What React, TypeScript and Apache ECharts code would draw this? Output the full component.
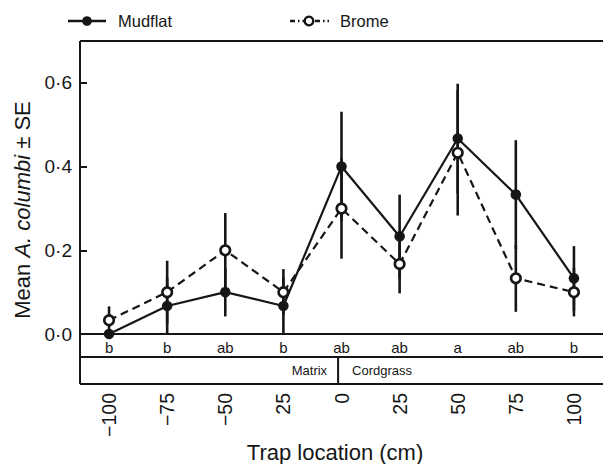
import React, { useEffect, useRef } from "react";
import * as echarts from "echarts";

const categories = ["−100", "−75", "−50", "25", "0", "25", "50", "75", "100"];
const letters = ["b", "b", "ab", "b", "ab", "ab", "a", "ab", "b"];
const mudflat = [0, 0.067, 0.1, 0.067, 0.4, 0.233, 0.467, 0.333, 0.133];
const mudflatSE = [0, 0.067, 0.058, 0.067, 0.131, 0.1, 0.131, 0.13, 0.077];
const brome = [0.033, 0.1, 0.2, 0.1, 0.3, 0.167, 0.433, 0.133, 0.1];
const bromeSE = [0.033, 0.075, 0.089, 0.055, 0.12, 0.07, 0.15, 0.08, 0.058];
const yTicks = [0, 0.2, 0.4, 0.6];
const dividerPos = 3.85;

const FONT = "Liberation Sans, Arial, sans-serif";
const INK = "#161616";

export default function App() {
  const ref = useRef<HTMLDivElement>(null);
  useEffect(() => {
    document.body.style.margin = "0";
    if (!ref.current) return;
    const chart = echarts.init(ref.current, undefined, { renderer: "svg" });
    const gl = 80, gt = 41, gw = 534, gh = 293;
    const gb = gt + gh; // zero line
    const rowA = gb + 23;
    const rowB = gb + 50;
    const step = gw / categories.length;
    const divX = gl + (dividerPos + 0.5) * step;

    const errSeries = (name: string, means: number[], se: number[]) => ({
      type: "custom",
      name,
      z: 1,
      data: means.map((m, i) => [i, m, se[i]]),
      encode: { x: 0, y: 1 },
      renderItem: (_p: any, api: any) => {
        const x = api.value(0), m = api.value(1), s = api.value(2);
        if (!s) return null;
        const a = api.coord([x, m + s]);
        const b = api.coord([x, Math.max(0, m - s)]);
        return {
          type: "line",
          shape: { x1: a[0], y1: a[1], x2: b[0], y2: b[1] },
          style: { stroke: INK, lineWidth: 2.6 },
        };
      },
    });

    const hl = (y: number, x1: number, x2: number) => ({
      type: "line",
      shape: { x1, y1: y, x2, y2: y },
      style: { stroke: INK, lineWidth: 2 },
      z: 10,
    });

    chart.setOption({
      animation: false,
      textStyle: { fontFamily: FONT },
      grid: { left: gl, top: gt, width: gw, height: gh, containLabel: false },
      xAxis: [
        {
          type: "category",
          data: categories,
          boundaryGap: true,
          position: "bottom",
          axisLine: { show: false },
          axisTick: { show: false },
          axisLabel: { rotate: 90, margin: 59, fontSize: 19.5, color: INK, fontFamily: FONT, interval: 0 },
        },
        {
          type: "category",
          data: letters,
          boundaryGap: true,
          position: "bottom",
          axisLine: { show: false },
          axisTick: { show: false },
          axisLabel: { margin: 6, fontSize: 15, color: INK, fontFamily: FONT, interval: 0 },
        },
      ],
      yAxis: {
        type: "value",
        min: 0,
        max: 0.7,
        interval: 0.2,
        splitLine: { show: false },
        axisLine: { show: false },
        axisTick: {
          show: true,
          inside: true,
          length: 7,
          lineStyle: { color: INK, width: 2 },
        },
        axisLabel: {
          fontSize: 19,
          color: INK,
          fontFamily: FONT,
          margin: 8,
          formatter: (v: number) =>
            yTicks.some((t) => Math.abs(t - v) < 1e-9) ? v.toFixed(1).replace(".", "·") : "",
        },
      },
      series: [
        errSeries("mudErr", mudflat, mudflatSE),
        errSeries("bromeErr", brome, bromeSE),
        {
          type: "line",
          name: "Mudflat",
          data: mudflat,
          z: 3,
          symbol: "circle",
          symbolSize: 10.5,
          lineStyle: { color: INK, width: 2.2 },
          itemStyle: { color: INK, borderColor: INK, borderWidth: 0 },
        },
        {
          type: "line",
          name: "Brome",
          data: brome,
          z: 4,
          symbol: "circle",
          symbolSize: 9.5,
          lineStyle: { color: INK, width: 2.2, type: [8, 5] },
          itemStyle: { color: "#fff", borderColor: INK, borderWidth: 2.6 },
        },
      ],
      graphic: [
        // frame
        { type: "line", shape: { x1: gl, y1: gt, x2: gl, y2: rowB }, style: { stroke: INK, lineWidth: 2 }, z: 10 },
        hl(gt, gl, 603),
        hl(gb, gl, 603),
        hl(rowA, gl, 603),
        hl(rowB, gl, 603),
        { type: "line", shape: { x1: divX, y1: rowA, x2: divX, y2: rowB }, style: { stroke: INK, lineWidth: 2 }, z: 10 },
        {
          type: "text", x: divX - 11, y: (rowA + rowB) / 2,
          style: { text: "Matrix", fontSize: 13, fontFamily: FONT, fill: INK, align: "right", verticalAlign: "middle" },
        },
        {
          type: "text", x: divX + 14, y: (rowA + rowB) / 2,
          style: { text: "Cordgrass", fontSize: 13, fontFamily: FONT, fill: INK, align: "left", verticalAlign: "middle" },
        },
        // axis titles
        {
          type: "text", x: 335, y: 452,
          style: { text: "Trap location (cm)", fontSize: 22, fontFamily: FONT, fill: INK, align: "center", verticalAlign: "middle" },
        },
        {
          type: "text", x: 22, y: 210, rotation: Math.PI / 2,
          style: {
            text: "{a|Mean }{b|A. columbi}{a| ± SE}",
            align: "center",
            verticalAlign: "middle",
            rich: {
              a: { fontSize: 22, fontFamily: FONT, fill: INK },
              b: { fontSize: 22, fontFamily: FONT, fill: INK, fontStyle: "italic" },
            },
          },
        },
        // legend
        { type: "line", shape: { x1: 68, y1: 21, x2: 106, y2: 21 }, style: { stroke: INK, lineWidth: 2.4 } },
        { type: "circle", shape: { cx: 87, cy: 21, r: 4.8 }, style: { fill: INK } },
        {
          type: "text", x: 118, y: 21,
          style: { text: "Mudflat", fontSize: 16.5, fontFamily: FONT, fill: INK, align: "left", verticalAlign: "middle" },
        },
        { type: "line", shape: { x1: 290, y1: 21, x2: 329, y2: 21 }, style: { stroke: INK, lineWidth: 2.4, lineDash: [5, 3, 1.5, 3] } },
        { type: "circle", shape: { cx: 309, cy: 21, r: 4.3 }, style: { fill: "#fff", stroke: INK, lineWidth: 2.4 } },
        {
          type: "text", x: 340, y: 21,
          style: { text: "Brome", fontSize: 16.5, fontFamily: FONT, fill: INK, align: "left", verticalAlign: "middle" },
        },
      ],
    });
    return () => chart.dispose();
  }, []);
  return <div ref={ref} style={{ width: 603, height: 464 }} />;
}
